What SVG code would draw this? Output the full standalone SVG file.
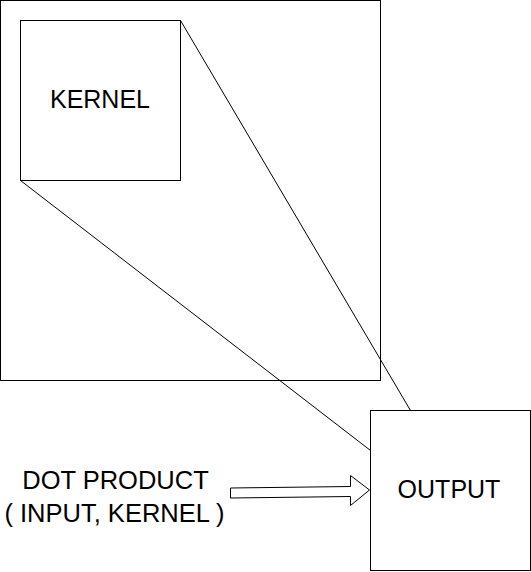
<svg xmlns="http://www.w3.org/2000/svg" width="531" height="572" viewBox="0 0 531 572">
<style>
.box{fill:#fff;stroke:#000;stroke-width:1}
.ln{fill:none;stroke:#000;stroke-width:1}
.t{font-family:"Liberation Sans",Arial,sans-serif;fill:#000;text-anchor:middle;font-size:25px}
.lb{font-size:25.5px}
</style>
<rect width="531" height="572" fill="#fff"/>
<g id="input"><rect class="box" x="0.5" y="0.5" width="380" height="380"/></g>
<g id="kernel"><rect class="box" x="20.5" y="20.5" width="160" height="160"/>
<text class="t" x="100" y="108">KERNEL</text></g>
<g id="output"><rect class="box" x="370.5" y="410.5" width="160" height="160"/>
<text class="t" x="449" y="498">OUTPUT</text></g>
<g id="connectors">
<line class="ln" x1="180.5" y1="20.5" x2="410.5" y2="410.5"/>
<line class="ln" x1="20.5" y1="180.5" x2="370.5" y2="450.5"/>
</g>
<g id="arrow"><polygon class="box" points="230.5,488 350.5,486.5 350.5,475.5 369.5,490 350.5,505.5 350.5,496.5 230.5,498"/></g>
<g id="label">
<text class="t lb" x="115.5" y="489">DOT PRODUCT</text>
<text class="t lb" x="114.5" y="522">( INPUT, KERNEL )</text>
</g>
</svg>
